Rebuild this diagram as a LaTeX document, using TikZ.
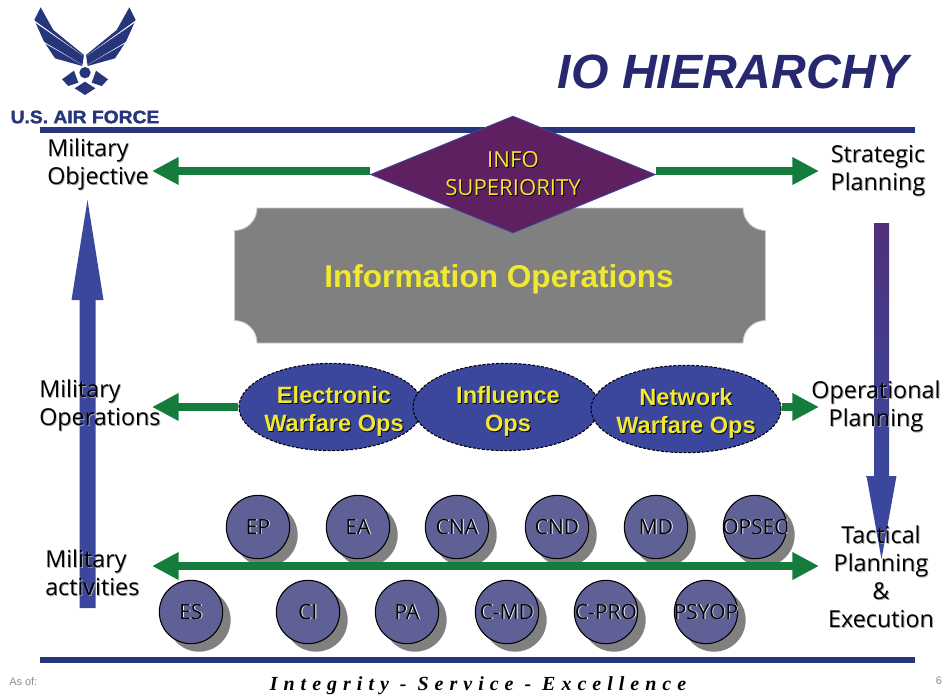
\documentclass[tikz,border=0pt]{standalone}
\usepackage{fontspec}
\setmainfont{Open Sans}
\newfontfamily\arialfont{Liberation Sans}
\newfontfamily\logofont[BoldFeatures={FakeBold=1.5}]{Liberation Sans}
\newfontfamily\mottofont[LetterSpace=30]{Liberation Serif}
\usetikzlibrary{calc,shapes.geometric,arrows.meta,shadows}
\definecolor{AfNavy}{RGB}{39,53,122}
\definecolor{TitleNavy}{RGB}{40,40,112}
\definecolor{ArrowGreen}{RGB}{20,125,62}
\definecolor{OpsBlue}{RGB}{59,71,157}
\definecolor{DiskBlue}{RGB}{95,96,150}
\definecolor{InfoPurple}{RGB}{94,32,97}
\definecolor{PlaqueGray}{RGB}{128,128,128}
\definecolor{OpsYellow}{RGB}{240,232,50}
\pgfdeclareverticalshading{downfade}{100bp}{color(0bp)=(OpsBlue); color(40bp)=(OpsBlue); color(100bp)=(InfoPurple)}
\newcommand{\shtxt}[3]{\leavevmode\rlap{\raisebox{-0.7pt}{\hspace{0.7pt}\textcolor{#1}{#3}}}\textcolor{#2}{#3}}
\newcommand{\disktxt}[1]{\makebox[0pt]{\shtxt{white}{black}{#1}}}
\newcommand{\wingshape}{
	\fill[AfNavy] (122,22) -- (160,90) -- (252,165) -- (247,198) -- (165,175) -- (132,125) -- (103,60) -- cycle;
	\fill[white] (101,60) -- (252,169) -- (101,64.5) -- cycle;
	\fill[white] (129,124) -- (250,196) -- (132,128.5) -- cycle;
	\fill[AfNavy] (186,238) -- (222,212) -- (235,248) -- (205,258) -- cycle;
}

\begin{document}
\begin{tikzpicture}[x=0.75pt,y=-0.75pt]
	\tikzstyle{sidelabel}=[font=\fontsize{17.5}{21}\selectfont, inner sep=0pt];
	\tikzstyle{opsnode}=[draw=black, dashed, dash pattern=on 2.2pt off 1.2pt, line width=0.8pt, shape=ellipse, fill=OpsBlue, minimum height=65.5pt, inner sep=0pt];
	\tikzstyle{opslabel}=[inner sep=0pt, align=center, font=\arialfont\bfseries\fontsize{17.7}{21}\selectfont];
	\tikzstyle{disk}=[draw=black, line width=0.8pt, shape=circle, fill=DiskBlue, minimum size=47.5pt, inner sep=0pt, font=\fontsize{15.7}{18}\selectfont, drop shadow={shadow xshift=6pt, shadow yshift=-6pt, fill=PlaqueGray, opacity=1}];
	\tikzstyle{greenarrow}=[draw=ArrowGreen, line width=6pt, -{Triangle[length=20pt,width=19.5pt]}];
	\useasboundingbox (0,0) rectangle (945,694);
	% logo
	\begin{scope}[x=0.25pt,y=-0.25pt]
		\wingshape
		\begin{scope}[shift={(510,0)},xscale=-1]
			\wingshape
		\end{scope}
		\fill[AfNavy] (255,218) circle (17);
		\fill[AfNavy] (255,245) -- (286,265) -- (255,285) -- (224,265) -- cycle;
	\end{scope}
	\node [inner sep=0pt, text=AfNavy, font=\logofont\bfseries\fontsize{13.5}{15}\selectfont] (logotext) at (85,117) {\scalebox{1.07}[1]{U.S. AIR FORCE}};
	\node [inner sep=0pt, text=TitleNavy, font=\arialfont\bfseries\itshape\fontsize{36.1}{40}\selectfont] (title) at (733,72) {IO HIERARCHY};
	% rules
	\fill[AfNavy] (40,127) rectangle (915,133);
	\fill[AfNavy] (40,657) rectangle (915,663);
	% plaque and diamond
	\fill[PlaqueGray, draw=black!20, line width=0.6pt] (234.5,230.5) arc[start angle=90, end angle=0, radius=22.5] -- (743,208) arc[start angle=180, end angle=90, radius=22.5] -- (765.5,320.5) arc[start angle=270, end angle=180, radius=22.5] -- (257,343) arc[start angle=0, end angle=-90, radius=22.5] -- cycle;
	\node [inner sep=0pt, text=OpsYellow, font=\arialfont\bfseries\fontsize{23.7}{28}\selectfont] (infoops) at (499,279.5) {Information Operations};
	\node [draw=OpsBlue, line width=0.6pt, fill=InfoPurple, shape=diamond, aspect=2.436, inner sep=0pt, minimum width=213.75pt, minimum height=87.75pt, align=center, font=\fontsize{16.6}{21}\selectfont] (infosup) at (513,174.5) {\shtxt{black}{OpsYellow}{INFO}\\\shtxt{black}{OpsYellow}{SUPERIORITY}};
	% ops ellipses
	\node [opsnode, minimum width=138pt] (ewo) at (331,407) {};
	\node [opsnode, minimum width=139.5pt] (iop) at (506,407) {};
	\node [opsnode, minimum width=142.5pt] (nwo) at (686,409) {};
	\node [opslabel] (ewotext) at (334,411.5) {\shtxt{black}{OpsYellow}{Electronic}\\\shtxt{black}{OpsYellow}{Warfare Ops}};
	\node [opslabel] (ioptext) at (508,411.5) {\shtxt{black}{OpsYellow}{Influence}\\\shtxt{black}{OpsYellow}{Ops}};
	\node [opslabel] (nwotext) at (686,413.5) {\shtxt{black}{OpsYellow}{Network}\\\shtxt{black}{OpsYellow}{Warfare Ops}};
	% disks, top row
	\node [disk] (ep) at (258,527) {\disktxt{EP}};
	\node [disk] (ea) at (358,527) {\disktxt{EA}};
	\node [disk] (cna) at (457,527) {\disktxt{CNA}};
	\node [disk] (cnd) at (557,527) {\disktxt{CND}};
	\node [disk] (md) at (656,527) {\disktxt{MD}};
	\node [disk] (opsec) at (755,527) {\disktxt{OPSEC}};
	% disks, bottom row
	\node [disk] (es) at (191,612) {\disktxt{ES}};
	\node [disk] (ci) at (308,612) {\disktxt{CI}};
	\node [disk] (pa) at (407,612) {\disktxt{PA}};
	\node [disk] (cmd) at (507,612) {\disktxt{C-MD}};
	\node [disk] (cpro) at (606,612) {\disktxt{C-PRO}};
	\node [disk] (psyop) at (706,612) {\disktxt{PSYOP}};
	% arrows
	\coordinate (objtip) at (152,171);
	\coordinate (strattip) at (819,171);
	\coordinate (optip) at (152,407);
	\coordinate (plantip) at (819,407);
	\coordinate (acttip) at (152,566);
	\coordinate (tactip) at (819,566);
	\coordinate (upstart) at (87.5,608);
	\coordinate (uptip) at (87.5,200);
	\coordinate (downstart) at (881.5,223);
	\coordinate (downtip) at (881.5,559);
	\draw[greenarrow] (infosup.west |- objtip) -- (objtip);
	\draw[greenarrow] (infosup.east |- strattip) -- (strattip);
	\draw[greenarrow] (ewo.west |- optip) -- (optip);
	\draw[greenarrow] (nwo.east |- plantip) -- (plantip);
	\draw[greenarrow, {Triangle[length=20pt,width=19.5pt]}-{Triangle[length=20pt,width=19.5pt]}] (acttip) -- (tactip);
	\fill[OpsBlue] ($(upstart)+(-8,0)$) -- ($(upstart)+(8,0)$) -- ($(uptip)+(8,100)$) -- ($(uptip)+(16,100)$) -- (uptip) -- ($(uptip)+(-16,100)$) -- ($(uptip)+(-8,100)$) -- cycle;
	\shade[shading=downfade] ($(downstart)+(-7.5,0)$) -- ($(downstart)+(7.5,0)$) -- ($(downstart)+(7.5,253)$) -- ($(downstart)+(15,253)$) -- (downtip) -- ($(downstart)+(-15,253)$) -- ($(downstart)+(-7.5,253)$) -- cycle;
	% side labels
	\node [sidelabel, align=left, anchor=west] (milobj) at (47,165) {\shtxt{black!35}{black}{Military}\\\shtxt{black!35}{black}{Objective}};
	\node [sidelabel, align=left, anchor=west] (milops) at (39,406) {\shtxt{black!35}{black}{Military}\\\shtxt{black!35}{black}{Operations}};
	\node [sidelabel, align=left, anchor=west] (milact) at (45,573) {\shtxt{black!35}{black}{Military}\\\shtxt{black!35}{black}{activities}};
	\node [sidelabel, align=center] (stratplan) at (878,171) {\shtxt{black!35}{black}{Strategic}\\\shtxt{black!35}{black}{Planning}};
	\node [sidelabel, align=center] (opplan) at (876,406.5) {\shtxt{black!35}{black}{Operational}\\\shtxt{black!35}{black}{Planning}};
	\node [sidelabel, align=center] (tacplan) at (881,577) {\shtxt{black!35}{black}{Tactical}\\\shtxt{black!35}{black}{Planning}\\\shtxt{black!35}{black}{\&}\\\shtxt{black!35}{black}{Execution}};
	% footer
	\node [inner sep=0pt, anchor=west, text=black!45, font=\arialfont\fontsize{8.2}{10}\selectfont] (asof) at (9,681.5) {As of:};
	\node [inner sep=0pt, text=black, font=\mottofont\bfseries\itshape\fontsize{15}{18}\selectfont] (motto) at (478,685.5) {Integrity - Service - Excellence};
	\node [inner sep=0pt, text=black!45, font=\arialfont\fontsize{8.2}{10}\selectfont] (pagenum) at (939,681) {6};
\end{tikzpicture}
\end{document}
